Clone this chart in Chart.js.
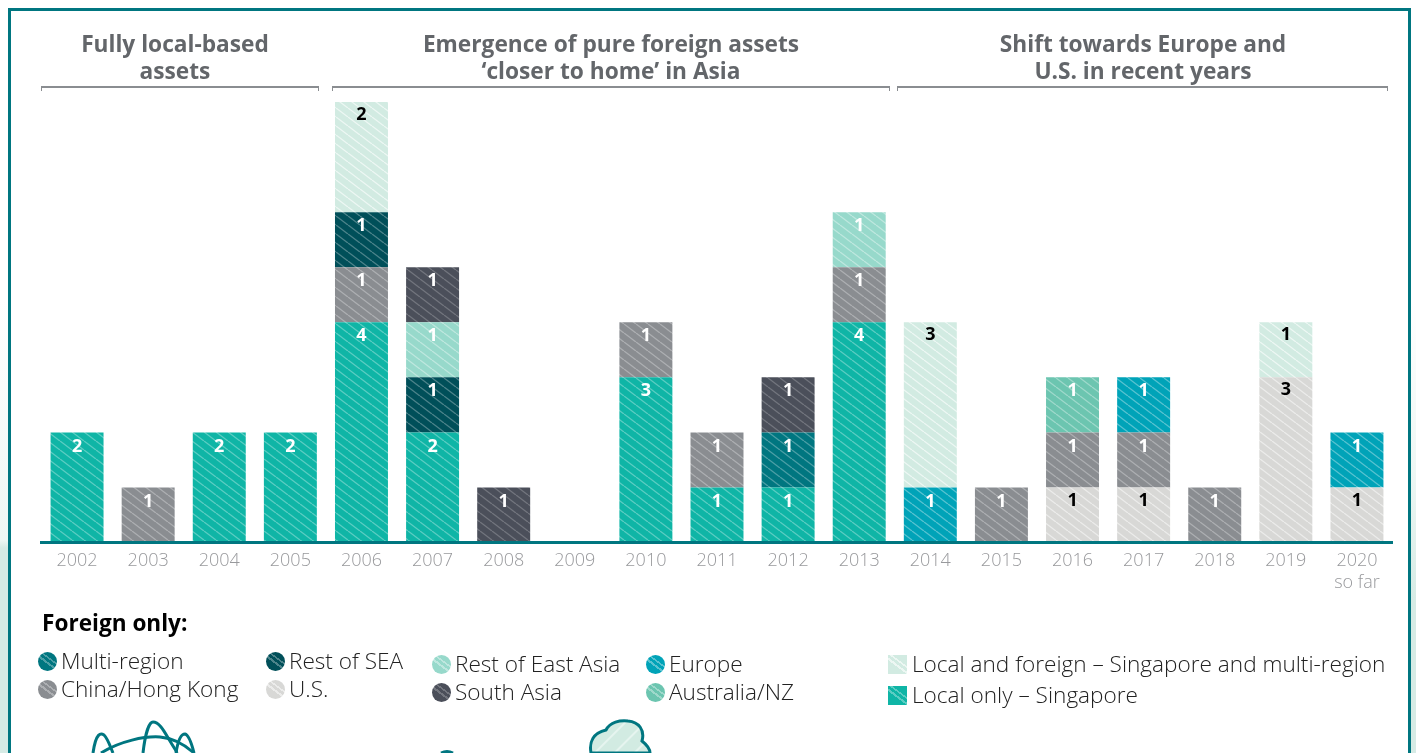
<!DOCTYPE html>
<html>
<head>
<meta charset="utf-8">
<title>Assets by region</title>
<script src="https://cdn.jsdelivr.net/npm/chart.js@4"></script>
<style>
html,body{margin:0;padding:0;background:#fff;}
body{width:1416px;height:753px;overflow:hidden;position:relative;font-family:"Open Sans",sans-serif;}
.strip{position:absolute;top:0;height:753px;}
#strip__left{left:0;width:8px;background:linear-gradient(to bottom,#fff 0,#fff 300px,#eef7f4 540px,#d6ebe5 548px,#d6ebe5 100%);}
#strip__right{left:1411px;width:5px;background:linear-gradient(to bottom,#fff 0,#fff 300px,#eef7f4 470px,#d6ebe5 600px,#d6ebe5 100%);}
#frame{position:absolute;left:8px;top:8px;width:1397px;height:800px;border:3px solid #007680;background:#fff;}
#grafico__main{position:absolute;left:0;top:0;}
.titulo{position:absolute;top:30px;font-size:22.7px;font-weight:700;line-height:27px;color:#63666a;text-align:center;white-space:nowrap;transform:translateX(-50%);}
.bracket{position:absolute;top:86px;height:5px;border:solid #8a8d91;border-width:2px 1px 0 1px;box-sizing:border-box;}
#foreign{position:absolute;left:42px;top:608px;font-size:22.6px;font-weight:700;line-height:30px;color:#000;}
.ley{position:absolute;font-size:22.6px;font-weight:300;line-height:28px;color:#222;white-space:nowrap;}
.dot{position:absolute;width:19px;height:19px;border-radius:50%;}
.sq{position:absolute;width:19px;height:19px;}
svg.deco{position:absolute;left:0;top:0;}
</style>
</head>
<body>
<div class="strip" id="strip__left"></div>
<div class="strip" id="strip__right"></div>
<div id="frame"></div>
<canvas id="grafico__main" width="1416" height="753"></canvas>
<svg class="deco" width="1416" height="753" viewBox="0 0 1416 753">
  <defs>
    <pattern id="cloudHatch" width="14" height="14" patternUnits="userSpaceOnUse" patternTransform="rotate(45)">
      <rect width="14" height="14" fill="#d2ebe2"/><rect width="2" height="14" fill="#e6f4ef"/>
    </pattern>
  </defs>
  <g fill="none" stroke="#007680" stroke-width="3">
    <path d="M93 753 C96 732 101 733 104 735 C108 739 110 746 113 753"/>
    <path d="M143 753 C145 735 149 722 153 722 C160 722 165 733 170 741 C174 748 176 750 177 753"/>
    <path d="M176 753 C178 740 181 734 185 734 C189 735 192 745 194 753"/>
    <path d="M101 753 C120 741 145 736 160 737 C172 738 184 744 194 753"/>
    <path d="M441 753 C445 751 449 751 453 753"/>
  </g>
  <path d="M591 753 C589 742 593 733 606 730 C610 722 620 720 628 721 C639 722 645 730 642 741 C647 745 650 749 650 753 Z" fill="url(#cloudHatch)" stroke="#007680" stroke-width="3"/>
</svg>
<div id="titulos"></div>
<div id="foreign">Foreign only:</div>
<div id="leyendas"></div>

<script>
const years = ['2002','2003','2004','2005','2006','2007','2008','2009','2010','2011','2012','2013','2014','2015','2016','2017','2018','2019',['2020','so far']];

// valores de abajo hacia arriba en cada barra
const localOnly  = [2,null,2,2,4,2,null,null,3,1,1,4,null,null,null,null,null,null,null];
const us         = [null,null,null,null,null,null,null,null,null,null,null,null,null,null,1,1,null,3,1];
const multiRegion= [null,null,null,null,null,null,null,null,null,null,1,null,null,null,null,null,null,null,null];
const china      = [null,1,null,null,1,null,null,null,1,1,null,1,null,1,1,1,1,null,null];
const restSea    = [null,null,null,null,1,1,null,null,null,null,null,null,null,null,null,null,null,null,null];
const restEast   = [null,null,null,null,null,1,null,null,null,null,null,1,null,null,null,null,null,null,null];
const southAsia  = [null,null,null,null,null,1,1,null,null,null,1,null,null,null,null,null,null,null,null];
const australia  = [null,null,null,null,null,null,null,null,null,null,null,null,null,null,1,null,null,null,null];
const europe     = [null,null,null,null,null,null,null,null,null,null,null,null,1,null,null,1,null,null,1];
const localForeign=[null,null,null,null,2,null,null,null,null,null,null,null,3,null,null,null,null,1,null];

const titles = [['Fully local-based','assets'],['Emergence of pure foreign assets','‘closer to home’ in Asia'],['Shift towards Europe and','U.S. in recent years']];
const titleCenters = [175,611,1143];
const brackets = [[41,319],[332,890],[897,1388]];

const series = [
	{name:'Local only – Singapore', data:localOnly, color:'#0fb5a6', text:'#fff', hatch:'rgba(255,255,255,0.32)'},
	{name:'U.S.', data:us, color:'#d8d8d6', text:'#000', hatch:'rgba(255,255,255,0.5)'},
	{name:'Multi-region', data:multiRegion, color:'#007680', text:'#fff', hatch:'rgba(255,255,255,0.3)'},
	{name:'China/Hong Kong', data:china, color:'#8a8d91', text:'#fff', hatch:'rgba(255,255,255,0.3)'},
	{name:'Rest of SEA', data:restSea, color:'#004f59', text:'#fff', hatch:'rgba(255,255,255,0.3)'},
	{name:'Rest of East Asia', data:restEast, color:'#97d9cb', text:'#fff', hatch:'rgba(255,255,255,0.38)'},
	{name:'South Asia', data:southAsia, color:'#4b4f5a', text:'#fff', hatch:'rgba(255,255,255,0.22)'},
	{name:'Australia/NZ', data:australia, color:'#6cc5b0', text:'#fff', hatch:'rgba(255,255,255,0.35)'},
	{name:'Europe', data:europe, color:'#00a3b8', text:'#fff', hatch:'rgba(255,255,255,0.35)'},
	{name:'Local and foreign – Singapore and multi-region', data:localForeign, color:'#d2ebe2', text:'#000', hatch:'rgba(255,255,255,0.6)'}
];

// leyenda: nombre, x, y centro, forma
const legendItems = [
	['Multi-region',47,661,'dot'],['China/Hong Kong',47,689,'dot'],
	['Rest of SEA',275,661,'dot'],['U.S.',275,689,'dot'],
	['Rest of East Asia',441,664,'dot'],['South Asia',441,692,'dot'],
	['Europe',655,664,'dot'],['Australia/NZ',655,692,'dot'],
	['Local and foreign – Singapore and multi-region',897,664,'sq'],['Local only – Singapore',897,695,'sq']
];

function hatchPattern(color,line){
	const c = document.createElement('canvas');
	c.width = 12; c.height = 9;
	const x = c.getContext('2d');
	x.fillStyle = color;
	x.fillRect(0,0,12,9);
	x.strokeStyle = line;
	x.lineWidth = 1.3;
	[-12,0,12].forEach(o=>{
		x.beginPath();
		x.moveTo(o,0);
		x.lineTo(o+12,9);
		x.stroke();
	});
	return x.createPattern(c,'repeat');
}

// titulos y corchetes
titles.forEach((t,i)=>{
	const d = document.createElement('div');
	d.className = 'titulo';
	d.style.left = titleCenters[i]+'px';
	d.innerHTML = t.join('<br>');
	titulos.appendChild(d);
	const b = document.createElement('div');
	b.className = 'bracket';
	b.style.left = brackets[i][0]+'px';
	b.style.width = (brackets[i][1]-brackets[i][0])+'px';
	titulos.appendChild(b);
});

// leyenda en html
legendItems.forEach(it=>{
	const s = series.find(v=>v.name==it[0]);
	const m = document.createElement('div');
	m.className = it[3];
	m.style.left = (it[1]-9.5)+'px';
	m.style.top = (it[2]-9.5)+'px';
	m.style.backgroundColor = s.color;
	m.style.backgroundImage = `linear-gradient(37deg,transparent 42%,${s.hatch} 42%,${s.hatch} 50%,transparent 50%,transparent 60%,${s.hatch} 60%,${s.hatch} 66%,transparent 66%)`;
	leyendas.appendChild(m);
	const l = document.createElement('div');
	l.className = 'ley';
	l.textContent = it[0];
	l.style.left = (it[1]+(it[3]=='sq'?15:14))+'px';
	l.style.top = (it[2]-14)+'px';
	leyendas.appendChild(l);
});

// numeros dentro de cada segmento
const segmentLabels = {
	id:'segmentLabels',
	afterDatasetsDraw(chart){
		const ctx = chart.ctx;
		ctx.save();
		ctx.font = '700 18px "Open Sans"';
		ctx.textAlign = 'center';
		ctx.textBaseline = 'middle';
		chart.data.datasets.forEach((ds,d)=>{
			chart.getDatasetMeta(d).data.forEach((bar,i)=>{
				if(ds.data[i]==null) return;
				ctx.fillStyle = series[d].text;
				ctx.fillText(ds.data[i],bar.x,bar.y+(series[d].text=='#000'?13:14));
			});
		});
		ctx.restore();
	}
};

const grafico = new Chart(document.querySelector('#grafico__main'),{
	type:'bar',
	data:{
		labels:years,
		datasets:series.map(s=>({
			label:s.name,
			data:s.data,
			backgroundColor:hatchPattern(s.color,s.hatch),
			borderWidth:0,
			barPercentage:0.745,
			categoryPercentage:1
		}))
	},
	options:{
		responsive:false,
		animation:false,
		layout:{padding:{left:41.5,right:23.5,top:102,bottom:160.5}},
		plugins:{legend:{display:false},tooltip:{enabled:false}},
		scales:{
			x:{
				stacked:true,
				grid:{display:false,drawTicks:false},
				border:{color:'#007680',width:3,z:1},
				ticks:{color:'#98999c',font:{family:'"Open Sans"',size:18,weight:300,lineHeight:1.2},padding:8,maxRotation:0,autoSkip:false},
				afterFit(scale){scale.height = 50;}
			},
			y:{stacked:true,display:false,min:0,max:8}
		}
	},
	plugins:[segmentLabels]
});
</script>
</body>
</html>
